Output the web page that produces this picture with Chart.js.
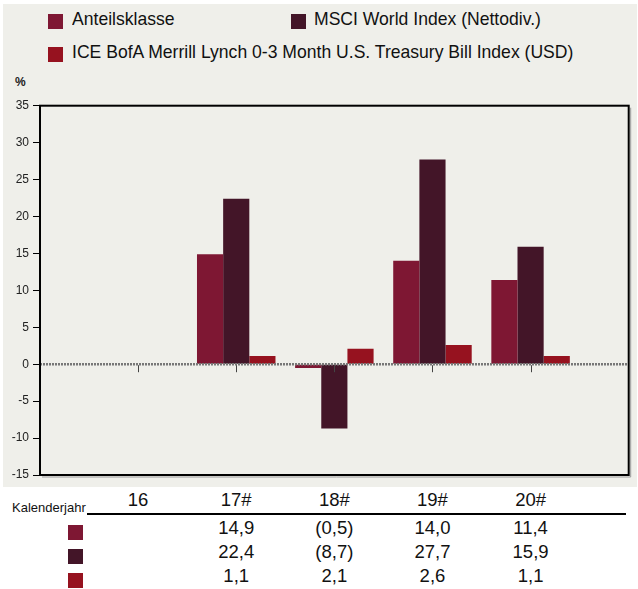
<!DOCTYPE html>
<html>
<head>
<meta charset="utf-8">
<script src="https://cdn.jsdelivr.net/npm/chart.js@4"></script>
<style>
  body { margin: 0; background: #fff; font-family: "Liberation Sans", Arial, sans-serif; color: #111; }
  #wrap { position: relative; width: 638px; height: 589px; overflow: hidden; }
  #panel { position: absolute; left: 3px; top: 4px; width: 634px; height: 483px; background: #efefea; }
  #chart { position: absolute; left: 0; top: 0; }
  .sq { position: absolute; width: 15px; height: 15px; }
  .lg { position: absolute; font-size: 19px; line-height: 20px; white-space: nowrap; color: #111; transform: scaleX(0.925); transform-origin: 0 0; }
  .pct { position: absolute; left: 15px; top: 75px; font-size: 12px; font-weight: bold; color: #222; }
  .cell { position: absolute; font-size: 18.5px; line-height: 22px; transform: translateX(-50%); white-space: nowrap; }
  #rule { position: absolute; left: 87px; top: 513px; width: 539px; height: 2px; background: #000; }
  .kal { position: absolute; left: 12px; top: 500px; font-size: 13px; line-height: 16px; }
</style>
</head>
<body>
<div id="wrap">
  <div id="panel"></div>
  <div class="sq" style="left:48px;top:14px;background:#7e1733"></div>
  <div class="lg" style="left:72px;top:9px">Anteilsklasse</div>
  <div class="sq" style="left:291px;top:14px;background:#431528"></div>
  <div class="lg" style="left:314px;top:9px">MSCI World Index (Nettodiv.)</div>
  <div class="sq" style="left:48px;top:47px;background:#96121f"></div>
  <div class="lg" style="left:72px;top:41.5px">ICE BofA Merrill Lynch 0-3 Month U.S. Treasury Bill Index (USD)</div>
  <div class="pct">%</div>
  <canvas id="chart" width="638" height="489"></canvas>
  <div class="kal">Kalenderjahr</div>
  <div id="rule"></div>
  <div id="table"></div>
</div>
<script>
const years = ['16', '17#', '18#', '19#', '20#'];
const shareClass = [null, 14.9, -0.5, 14.0, 11.4];
const msciWorld = [null, 22.4, -8.7, 27.7, 15.9];
const tBill = [null, 1.1, 2.1, 2.6, 1.1];
const yTicks = [35, 30, 25, 20, 15, 10, 5, 0, -5, -10, -15];

const colors = ['#7e1733', '#431528', '#96121f'];

// empty slot at each end so the groups sit where the original puts them
const labels = [''].concat(years, ['']);
const pad = arr => [null].concat(arr, [null]);

const frame = {
    id: 'frame',
    afterDatasetsDraw(chart) {
        const { ctx, chartArea: a, scales: { x, y } } = chart;
        const y0 = y.getPixelForValue(0);
        ctx.save();
        // zero line
        ctx.strokeStyle = '#777';
        ctx.lineWidth = 2.5;
        ctx.setLineDash([2, 1]);
        ctx.beginPath(); ctx.moveTo(a.left, y0); ctx.lineTo(a.right, y0); ctx.stroke();
        ctx.setLineDash([]);
        // category ticks under the zero line
        ctx.strokeStyle = '#444';
        ctx.lineWidth = 1;
        years.forEach((_, i) => {
            const px = Math.round(x.getPixelForValue(i + 1)) + 0.5;
            ctx.beginPath(); ctx.moveTo(px, y0 + 1); ctx.lineTo(px, y0 + 8); ctx.stroke();
        });
        // shadow + box
        ctx.strokeStyle = '#9a9a9a';
        ctx.beginPath();
        ctx.moveTo(a.right + 2, a.top + 2); ctx.lineTo(a.right + 2, a.bottom + 2); ctx.lineTo(a.left + 2, a.bottom + 2);
        ctx.stroke();
        ctx.strokeStyle = '#000';
        ctx.lineWidth = 2;
        ctx.strokeRect(a.left, a.top, a.right - a.left, a.bottom - a.top);
        ctx.restore();
    }
};

const chart = new Chart(document.getElementById('chart'), {
    type: 'bar',
    data: {
        labels: labels,
        datasets: [
            { label: 'Anteilsklasse', data: pad(shareClass), backgroundColor: colors[0] },
            { label: 'MSCI World Index (Nettodiv.)', data: pad(msciWorld), backgroundColor: colors[1] },
            { label: 'ICE BofA Merrill Lynch 0-3 Month U.S. Treasury Bill Index (USD)', data: pad(tBill), backgroundColor: colors[2] }
        ]
    },
    options: {
        responsive: false,
        animation: false,
        layout: { padding: { top: 105.7, right: 9.3, bottom: 14, left: 0 } },
        datasets: { bar: { categoryPercentage: 0.8, barPercentage: 1 } },
        plugins: { legend: { display: false }, tooltip: { enabled: false } },
        scales: {
            x: {
                offset: false,
                ticks: { display: false },
                grid: { display: false },
                border: { display: false },
                afterFit: s => { s.height = 0; }
            },
            y: {
                min: -15, max: 35,
                afterFit: s => { s.width = 40; },
                afterBuildTicks: s => { s.ticks = yTicks.map(v => ({ value: v })); },
                ticks: { padding: 4, color: '#222', font: { family: '"Liberation Sans", Arial, sans-serif', size: 12 } },
                grid: { drawOnChartArea: false, tickLength: 7, color: '#000' },
                border: { display: false }
            }
        }
    },
    plugins: [frame]
});

// table below the chart, columns lined up on the x scale
const fmt = v => v === null ? '' : (v < 0 ? '(' + Math.abs(v).toFixed(1).replace('.', ',') + ')' : v.toFixed(1).replace('.', ','));
const table = document.getElementById('table');
const rowTops = [517, 541, 565];
const rows = [shareClass, msciWorld, tBill];
const xs = chart.scales.x;

years.forEach((yr, i) => {
    const cx = xs.getPixelForValue(i + 1);
    table.insertAdjacentHTML('beforeend', `<div class="cell" style="left:${cx}px;top:488.7px">${yr}</div>`);
    rows.forEach((r, j) => {
        table.insertAdjacentHTML('beforeend', `<div class="cell" style="left:${cx}px;top:${rowTops[j]}px">${fmt(r[i])}</div>`);
    });
});
rows.forEach((_, j) => {
    table.insertAdjacentHTML('beforeend', `<div class="sq" style="left:68px;top:${rowTops[j] + 8}px;background:${colors[j]}"></div>`);
});
</script>
</body>
</html>
